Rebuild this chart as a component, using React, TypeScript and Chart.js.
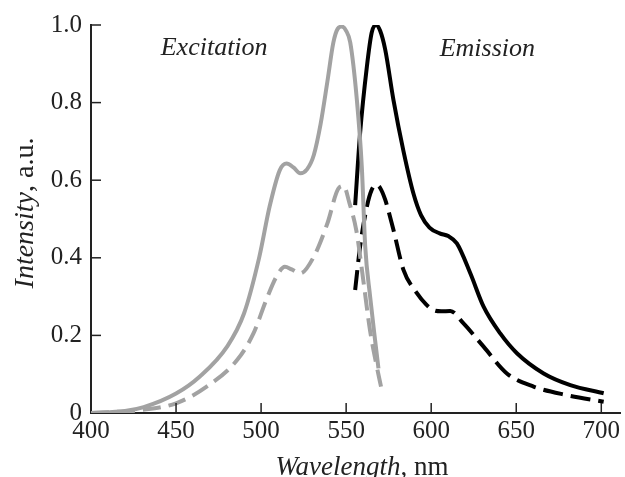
import React, { useEffect, useRef } from "react";
import { Chart, registerables } from "chart.js";

Chart.register(...registerables);

// ---- Data ----
const excSolidX = [400, 420, 431, 450, 464, 480, 490, 499, 505, 511, 515, 519, 523, 527, 531, 535, 539, 542.5, 545, 547.5, 550, 552.4, 556.3, 559.2, 561.2, 564.1, 567, 569];
const excSolidY = [0, 0.005, 0.015, 0.05, 0.094, 0.171, 0.257, 0.403, 0.532, 0.626, 0.643, 0.633, 0.618, 0.628, 0.665, 0.745, 0.855, 0.955, 0.99, 0.996, 0.985, 0.955, 0.807, 0.635, 0.43, 0.3, 0.188, 0.115];

const excDashX = [400, 430, 450, 468, 486, 495.5, 503, 509, 514, 518, 523, 531, 539, 545.5, 548.5, 552, 556, 560, 564, 568, 570.5];
const excDashY = [0, 0.008, 0.025, 0.068, 0.137, 0.205, 0.291, 0.351, 0.377, 0.37, 0.36, 0.403, 0.489, 0.579, 0.585, 0.54, 0.47, 0.345, 0.214, 0.12, 0.068];

const emSolidX = [555.3, 558.2, 562.2, 565, 567.6, 570, 573, 577.8, 583.7, 589.6, 594, 599, 605, 610, 615.1, 623, 630.8, 640.6, 650.4, 666.1, 681.8, 701.4];
const emSolidY = [0.536, 0.721, 0.893, 0.98, 1.0, 0.985, 0.936, 0.807, 0.675, 0.565, 0.51, 0.478, 0.463, 0.456, 0.437, 0.36, 0.274, 0.205, 0.154, 0.102, 0.072, 0.051];

const emDashX = [555.3, 558.2, 562.2, 565, 567.6, 570, 573, 577.8, 583.7, 591.6, 597, 601.4, 606, 611.2, 619, 630.8, 644.5, 660.2, 679.8, 701.4];
const emDashY = [0.317, 0.429, 0.532, 0.575, 0.588, 0.58, 0.549, 0.472, 0.369, 0.309, 0.28, 0.265, 0.262, 0.263, 0.231, 0.171, 0.102, 0.068, 0.046, 0.029];

const xTicks = [400, 450, 500, 550, 600, 650, 700];
const yTicks = [0, 0.2, 0.4, 0.6, 0.8, 1.0];

const labelExcitation = "Excitation";
const labelEmission = "Emission";
const xTitleItalic = "Wavelength";
const xTitleRest = ", nm";
const yTitleItalic = "Intensity";
const yTitleRest = ", a.u.";

const SERIF = '"Liberation Serif", "Times New Roman", serif';
const GRAY = "#a2a2a2";
const BLACK = "#000000";
const TEXT = "#222222";

const pts = (xs: number[], ys: number[]) => xs.map((x, i) => ({ x, y: ys[i] }));

const decorPlugin = {
  id: "decor",
  afterDraw(chart: any) {
    const { ctx, chartArea, scales } = chart;
    const xs = scales.x;
    const ys = scales.y;
    ctx.save();
    // inward ticks
    ctx.strokeStyle = TEXT;
    ctx.lineWidth = 1.5;
    xTicks.forEach((v) => {
      if (v === xTicks[0]) return;
      const px = xs.getPixelForValue(v);
      ctx.beginPath();
      ctx.moveTo(px, chartArea.bottom);
      ctx.lineTo(px, chartArea.bottom - 10);
      ctx.stroke();
    });
    yTicks.forEach((v) => {
      if (v === yTicks[0]) return;
      const py = ys.getPixelForValue(v);
      ctx.beginPath();
      ctx.moveTo(chartArea.left, py);
      ctx.lineTo(chartArea.left + 10, py);
      ctx.stroke();
    });

    ctx.fillStyle = TEXT;
    ctx.textBaseline = "alphabetic";
    // annotations
    ctx.font = `italic 26px ${SERIF}`;
    ctx.textAlign = "left";
    ctx.fillText(labelExcitation, xs.getPixelForValue(441), 55);
    ctx.fillText(labelEmission, xs.getPixelForValue(605), 56);

    // x title (mixed style)
    ctx.font = `italic 27px ${SERIF}`;
    const w1 = ctx.measureText(xTitleItalic).width;
    ctx.font = `27px ${SERIF}`;
    const w2 = ctx.measureText(xTitleRest).width;
    const cx = 362;
    const sx = cx - (w1 + w2) / 2;
    ctx.font = `italic 27px ${SERIF}`;
    ctx.fillText(xTitleItalic, sx, 475);
    ctx.font = `27px ${SERIF}`;
    ctx.fillText(xTitleRest, sx + w1, 475);

    // y title (rotated)
    ctx.translate(33, 213);
    ctx.rotate(-Math.PI / 2);
    ctx.font = `italic 28px ${SERIF}`;
    const h1 = ctx.measureText(yTitleItalic).width;
    ctx.font = `28px ${SERIF}`;
    const h2 = ctx.measureText(yTitleRest).width;
    const st = -(h1 + h2) / 2;
    ctx.font = `italic 28px ${SERIF}`;
    ctx.fillText(yTitleItalic, st, 0);
    ctx.font = `28px ${SERIF}`;
    ctx.fillText(yTitleRest, st + h1, 0);
    ctx.restore();
  },
};

export default function App() {
  const ref = useRef<HTMLCanvasElement | null>(null);
  useEffect(() => {
    if (!ref.current) return;
    const common = { fill: false, pointRadius: 0, borderWidth: 4, cubicInterpolationMode: "monotone" as const, borderCapStyle: "butt" as const };
    const chart = new Chart(ref.current, {
      type: "line",
      data: {
        datasets: [
          { ...common, label: "exc", data: pts(excSolidX, excSolidY), borderColor: GRAY, order: 1 },
          { ...common, label: "excd", data: pts(excDashX, excDashY), borderColor: GRAY, borderDash: [18, 8], order: 2 },
          { ...common, label: "em", data: pts(emSolidX, emSolidY), borderColor: BLACK, order: 3 },
          { ...common, label: "emd", data: pts(emDashX, emDashY), borderColor: BLACK, borderDash: [20, 8], order: 4 },
        ],
      },
      options: {
        responsive: false,
        animation: false,
        events: [],
        layout: { padding: { left: 0, top: 25, right: 5, bottom: 0 } },
        plugins: { legend: { display: false }, tooltip: { enabled: false }, title: { display: false } },
        scales: {
          x: {
            type: "linear",
            min: 400,
            max: 711,
            afterBuildTicks: (s: any) => { s.ticks = xTicks.map((v) => ({ value: v })); },
            afterFit: (s: any) => { s.height = 64; },
            grid: { display: false, drawTicks: false },
            border: { display: true, color: TEXT, width: 2 },
            ticks: { color: TEXT, font: { family: SERIF, size: 25 }, padding: 3, maxRotation: 0, autoSkip: false, callback: (v: any) => String(v) },
          },
          y: {
            type: "linear",
            min: 0,
            max: 1,
            afterBuildTicks: (s: any) => { s.ticks = yTicks.map((v) => ({ value: v })); },
            afterFit: (s: any) => { s.width = 91; },
            grid: { display: false, drawTicks: false },
            border: { display: true, color: TEXT, width: 2 },
            ticks: { color: TEXT, font: { family: SERIF, size: 25 }, padding: 9, autoSkip: false, callback: (v: any) => (v === 0 ? "0" : Number(v).toFixed(1)) },
          },
        },
      },
      plugins: [decorPlugin],
    });
    return () => chart.destroy();
  }, []);
  return (
    <div style={{ position: "absolute", left: 0, top: 0, width: 625, height: 477, background: "#fff" }}>
      <canvas ref={ref} width={625} height={477} />
    </div>
  );
}
